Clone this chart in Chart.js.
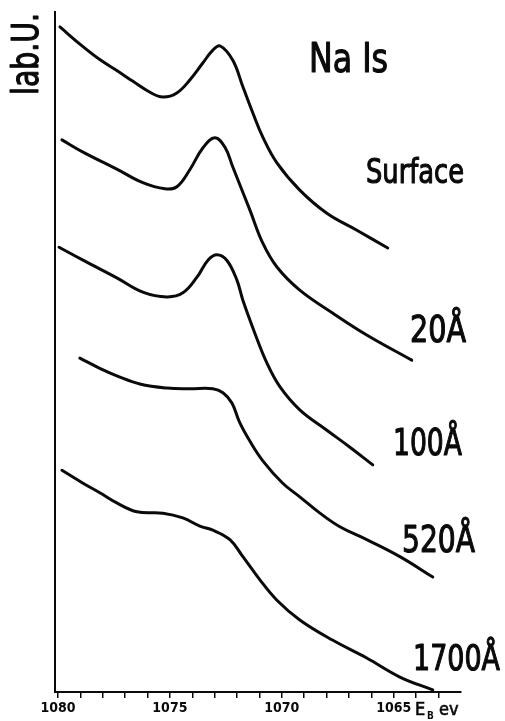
<!DOCTYPE html>
<html>
<head>
<meta charset="utf-8">
<script src="https://cdn.jsdelivr.net/npm/chart.js@4/dist/chart.umd.min.js"></script>
<style>
  html, body { margin: 0; padding: 0; background: #fff; }
  #wrap { position: relative; width: 505px; height: 721px; }
</style>
</head>
<body>
<div id="wrap"><canvas id="c" width="505" height="721"></canvas></div>
<script>
// ---- Data (binding energy in eV, intensity in arbitrary units) ----
const surfaceE = [1079.91, 1078.88, 1078.13, 1077.37, 1076.65, 1075.89, 1075.31, 1074.69, 1074.11, 1073.53, 1073.08, 1072.75, 1072.19, 1071.74, 1071.29, 1070.85, 1070.22, 1069.20, 1067.99, 1066.65, 1065.27];
const surfaceI = [97.8, 94.9, 93.0, 91.4, 89.8, 88.2, 87.5, 88.1, 90.0, 92.5, 94.4, 95.0, 92.9, 89.0, 85.1, 81.6, 77.8, 73.8, 70.4, 67.9, 65.3];

const d20E = [1079.82, 1078.88, 1077.37, 1076.21, 1075.22, 1074.69, 1074.11, 1073.53, 1072.99, 1072.54, 1072.19, 1071.43, 1070.85, 1070.22, 1069.20, 1067.72, 1066.21, 1064.20];
const d20I = [81.2, 79.4, 76.9, 74.9, 74.0, 74.3, 76.8, 80.0, 81.5, 80.1, 77.2, 70.9, 66.0, 62.5, 59.1, 55.7, 52.5, 48.8];

const d100E = [1079.95, 1078.88, 1077.37, 1076.21, 1075.13, 1074.42, 1073.79, 1073.30, 1072.90, 1072.46, 1072.01, 1071.74, 1071.21, 1070.67, 1070.09, 1069.20, 1067.99, 1066.96, 1065.94];
const d100I = [65.4, 63.5, 60.9, 58.8, 58.1, 58.7, 61.0, 63.5, 64.3, 63.5, 60.6, 57.6, 52.8, 48.4, 44.9, 41.5, 38.5, 36.0, 33.4];

const d520E = [1079.02, 1078.13, 1077.37, 1076.34, 1075.13, 1074.11, 1073.08, 1072.63, 1072.23, 1071.88, 1071.43, 1070.85, 1069.96, 1069.20, 1068.30, 1067.41, 1066.21, 1064.73, 1063.26];
const d520I = [49.1, 47.6, 46.5, 45.3, 44.7, 44.6, 44.6, 44.0, 42.5, 39.6, 36.9, 34.0, 30.7, 28.7, 26.3, 24.3, 22.4, 19.9, 16.9];

const d1700E = [1079.82, 1078.88, 1078.13, 1077.37, 1076.47, 1075.31, 1074.42, 1073.66, 1073.08, 1072.32, 1071.74, 1070.98, 1070.22, 1069.20, 1067.72, 1066.21, 1064.73, 1063.26];
const d1700I = [32.6, 30.7, 29.3, 27.8, 26.5, 26.3, 25.6, 24.4, 23.8, 22.4, 19.9, 16.5, 13.5, 10.6, 7.6, 5.0, 2.2, 0.3];

const tickLabels = [1080, 1075, 1070, 1065];
const seriesNames = ['Surface', '20Å', '100Å', '520Å', '1700Å'];

// ---- build datasets ----
const pairs = [[surfaceE, surfaceI], [d20E, d20I], [d100E, d100I], [d520E, d520I], [d1700E, d1700I]];
const datasets = pairs.map((p, i) => ({
  label: seriesNames[i],
  data: p[0].map((e, k) => ({ x: e, y: p[1][k] })),
  borderColor: '#0a0a0a',
  borderWidth: 3,
  pointRadius: 0,
  fill: false,
  tension: 0.4,
  borderCapStyle: 'round',
  borderJoinStyle: 'round'
}));

const NARROW = '"Liberation Sans Narrow", "DejaVu Sans Condensed", sans-serif';

function drawFit(ctx, text, x, y, w, size, rot) {
  ctx.save();
  ctx.font = size + 'px ' + NARROW;
  const m = ctx.measureText(text).width;
  ctx.translate(x, y);
  if (rot) ctx.rotate(rot);
  ctx.scale(w / m, 1);
  ctx.textBaseline = 'alphabetic';
  ctx.textAlign = 'left';
  ctx.fillStyle = '#0a0a0a';
  ctx.strokeStyle = '#0a0a0a';
  ctx.lineWidth = 1.1;
  ctx.lineJoin = 'round';
  ctx.fillText(text, 0, 0);
  ctx.strokeText(text, 0, 0);
  ctx.restore();
}

const textPlugin = {
  id: 'texts',
  afterDraw(chart) {
    const ctx = chart.ctx;
    drawFit(ctx, 'Na Is', 309, 72, 79, 40);
    drawFit(ctx, seriesNames[0], 366, 183, 98, 34);
    drawFit(ctx, seriesNames[1], 410, 342, 56, 38);
    drawFit(ctx, seriesNames[2], 393, 455, 69, 38);
    drawFit(ctx, seriesNames[3], 402, 552, 73, 38);
    drawFit(ctx, seriesNames[4], 413, 670, 87, 36);
    drawFit(ctx, 'lab.U.', 38, 95, 82, 38, -Math.PI / 2);
    // axis title E_B ev
    ctx.save();
    ctx.fillStyle = '#0a0a0a';
    ctx.textBaseline = 'alphabetic';
    ctx.font = '18px ' + NARROW;
    ctx.fillText('E', 415, 715);
    ctx.strokeStyle = '#0a0a0a';
    ctx.lineWidth = 0.6;
    ctx.strokeText('E', 415, 715);
    ctx.font = 'bold 10px ' + NARROW;
    ctx.fillText('B', 427, 719);
    ctx.font = '18px ' + NARROW;
    ctx.fillText('ev', 439, 715);
    ctx.strokeText('ev', 439, 715);
    ctx.restore();
  }
};

new Chart(document.getElementById('c'), {
  type: 'line',
  data: { datasets },
  options: {
    responsive: false,
    animation: false,
    devicePixelRatio: 1,
    layout: { padding: { left: 55, right: 44, top: 12, bottom: 0 } },
    plugins: { legend: { display: false }, tooltip: { enabled: false } },
    scales: {
      x: {
        type: 'linear',
        reverse: true,
        min: 1062.0,
        max: 1080.13,
        afterBuildTicks: s => {
          const t = [];
          for (let v = 1080; v >= 1063; v--) t.push({ value: v });
          s.ticks = t;
        },
        afterFit: s => { s.height = 29; },
        ticks: {
          autoSkip: false,
          maxRotation: 0,
          padding: 2,
          color: '#0a0a0a',
          font: { family: NARROW, size: 14, weight: 'bold' },
          callback: v => tickLabels.includes(v) ? String(v) : ''
        },
        grid: { display: true, drawOnChartArea: false, drawTicks: true, tickLength: 6, color: '#0a0a0a', lineWidth: 1.5 },
        border: { display: true, color: '#0a0a0a', width: 2 }
      },
      y: {
        type: 'linear',
        min: 0,
        max: 100,
        afterFit: s => { s.width = 0; },
        ticks: { display: false },
        grid: { display: false, drawTicks: false },
        border: { display: true, color: '#0a0a0a', width: 2 }
      }
    }
  },
  plugins: [textPlugin]
});
</script>
</body>
</html>
